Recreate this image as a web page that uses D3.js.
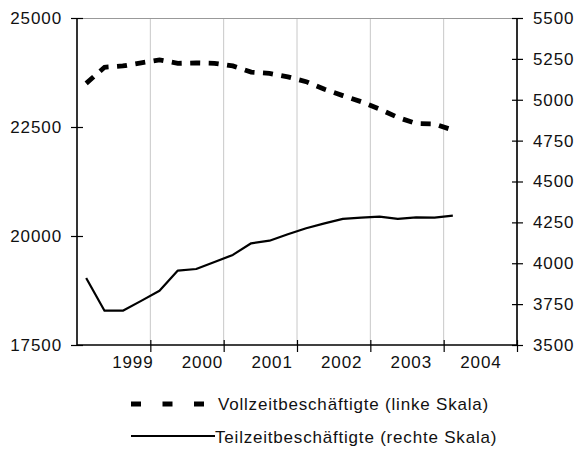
<!DOCTYPE html>
<html>
<head>
<meta charset="utf-8">
<script src="https://cdn.jsdelivr.net/npm/d3@7"></script>
<style>
  html, body { margin: 0; padding: 0; background: #fff; }
  text { font-family: "Liberation Sans", Arial, sans-serif; fill: #111; }
</style>
</head>
<body>
<svg id="chart" width="578" height="449"></svg>
<script>
// Quarterly observations, 1998 Q1 – 2003 Q1
const years = [1998,1998,1998,1998,1999,1999,1999,1999,2000,2000,2000,2000,2001,2001,2001,2001,2002,2002,2002,2002,2003];
const quarters = [1,2,3,4,1,2,3,4,1,2,3,4,1,2,3,4,1,2,3,4,1];
const vollzeit = [23500,23870,23900,23970,24040,23960,23970,23960,23900,23760,23730,23650,23540,23365,23220,23080,22910,22720,22580,22570,22430];
const teilzeit = [3910,3710,3710,3770,3832,3955,3965,4008,4051,4122,4138,4177,4214,4244,4271,4279,4285,4271,4281,4279,4291];
const leftTicks = [17500, 20000, 22500, 25000];
const rightTicks = [3500,3750,4000,4250,4500,4750,5000,5250,5500];
const yearTicks = [1999, 2000, 2001, 2002, 2003, 2004];
const yearLabels = ["1999","2000","2001","2002","2003","2004"];
const legendLabels = ["Vollzeitbeschäftigte (linke Skala)", "Teilzeitbeschäftigte (rechte Skala)"];

const W = 578, H = 449;
const m = {left: 77, right: 61, top: 18, bottom: 104};
const pw = W - m.left - m.right, ph = H - m.top - m.bottom;
const svg = d3.select("#chart");
const g = svg.append("g").attr("transform", `translate(${m.left},${m.top})`);

const x = d3.scaleLinear().domain([1998, 2004]).range([0, pw]);
const yL = d3.scaleLinear().domain([17500, 25000]).range([ph, 0]);
const yR = d3.scaleLinear().domain([3500, 5500]).range([ph, 0]);
// labels sit slightly left of the year ticks in the original
const xLab = d3.scalePoint().domain(yearLabels).range([pw * 0.127, pw * 0.918]);

const pts = years.map((yr, i) => ({t: yr + (quarters[i] - 0.5) / 4, v: vollzeit[i], p: teilzeit[i]}));

// gridlines
g.append("g").selectAll("line").data(yearTicks).join("line")
  .attr("x1", d => x(d)).attr("x2", d => x(d))
  .attr("y1", 0).attr("y2", ph)
  .attr("stroke", "#c8c8c8").attr("stroke-width", 1);
// top border
g.append("line").attr("x1", 0).attr("x2", pw).attr("y1", 0.5).attr("y2", 0.5)
  .attr("stroke", "#999").attr("stroke-width", 1.2);

const fs = "17px";
// left axis
const la = g.append("g").call(d3.axisLeft(yL).tickValues(leftTicks).tickSize(6).tickFormat(d3.format("d")));
la.select(".domain").attr("stroke", "#000").attr("stroke-width", 1.6);
la.selectAll(".tick line").attr("stroke", "#000").attr("x2", 6).attr("x1", -6).attr("stroke-width", 1.2);
la.selectAll(".tick text").attr("x", -15).attr("font-size", fs).style("letter-spacing", "0.9px")
  .attr("font-family", "Liberation Sans, Arial, sans-serif").attr("fill", "#111");
la.select(".domain").attr("d", `M0,0V${ph}`);

// right axis
const ra = g.append("g").attr("transform", `translate(${pw},0)`)
  .call(d3.axisRight(yR).tickValues(rightTicks).tickSize(6).tickFormat(d3.format("d")));
ra.select(".domain").attr("stroke", "#000").attr("stroke-width", 1.6).attr("d", `M0,0V${ph}`);
ra.selectAll(".tick line").attr("stroke", "#000").attr("x1", -5).attr("x2", 6).attr("stroke-width", 1.2);
ra.selectAll(".tick text").attr("x", 16).attr("font-size", fs).style("letter-spacing", "0.9px")
  .attr("font-family", "Liberation Sans, Arial, sans-serif").attr("fill", "#111");

// bottom axis
const ba = g.append("g").attr("transform", `translate(0,${ph})`)
  .call(d3.axisBottom(x).tickValues(yearTicks).tickSize(6).tickFormat(""));
ba.select(".domain").attr("stroke", "#000").attr("stroke-width", 1.6).attr("d", `M0,0H${pw}`);
ba.selectAll(".tick line").attr("stroke", "#000").attr("y1", -5).attr("y2", 7).attr("stroke-width", 1.2);
g.append("g").selectAll("text").data(yearLabels).join("text")
  .attr("x", d => xLab(d)).attr("y", ph + 23)
  .attr("text-anchor", "middle").attr("font-size", fs).style("letter-spacing", "0.9px")
  .text(d => d);

// lines
const lineV = d3.line().x(d => x(d.t)).y(d => yL(d.v));
const lineP = d3.line().x(d => x(d.t)).y(d => yR(d.p));
g.append("path").datum(pts).attr("d", lineV)
  .attr("fill", "none").attr("stroke", "#000").attr("stroke-width", 4.8)
  .attr("stroke-dasharray", "10,8.5");
g.append("path").datum(pts).attr("d", lineP)
  .attr("fill", "none").attr("stroke", "#000").attr("stroke-width", 2.2)
  .attr("stroke-linejoin", "round");

// legend
const leg = svg.append("g");
leg.append("line").attr("x1", 131).attr("x2", 205).attr("y1", 404).attr("y2", 404)
  .attr("stroke", "#000").attr("stroke-width", 5).attr("stroke-dasharray", "10,21.5");
leg.append("text").attr("x", 218).attr("y", 410).attr("font-size", "17px")
  .style("letter-spacing", "0.8px").text(legendLabels[0]);
leg.append("line").attr("x1", 131).attr("x2", 215).attr("y1", 436).attr("y2", 436)
  .attr("stroke", "#000").attr("stroke-width", 2);
leg.append("text").attr("x", 215).attr("y", 443).attr("font-size", "17px")
  .style("letter-spacing", "0.8px").text(legendLabels[1]);
</script>
</body>
</html>
